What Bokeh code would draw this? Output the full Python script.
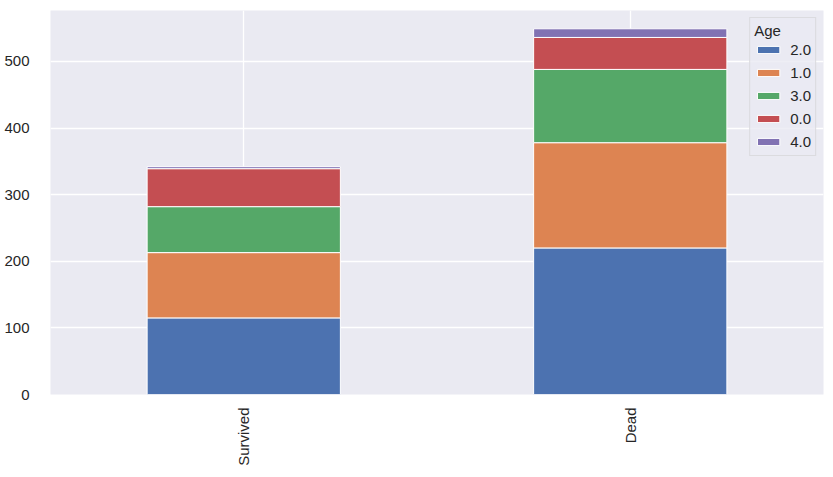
from bokeh.plotting import figure
from bokeh.models import ColumnDataSource, FactorRange, Range1d, SingleIntervalTicker
from bokeh.embed import file_html
from bokeh.resources import INLINE
from math import pi

categories = ["Survived", "Dead"]
age_groups = ["2.0", "1.0", "3.0", "0.0", "4.0"]
age_2 = [115, 220]
age_1 = [98, 158]
age_3 = [69, 110]
age_0 = [57, 48]
age_4 = [3, 13]
colors = ["#4C72B0", "#DD8452", "#55A868", "#C44E52", "#8172B3"]

keys = ["a2", "a1", "a3", "a0", "a4"]
source = ColumnDataSource(data=dict(cat=categories, a2=age_2, a1=age_1, a3=age_3, a0=age_0, a4=age_4))

totals = [sum(v) for v in zip(age_2, age_1, age_3, age_0, age_4)]
ymax = max(totals) * 1.05

p = figure(width=833, height=477, output_backend="svg", toolbar_location=None,
           x_range=FactorRange(factors=categories, range_padding=0),
           y_range=Range1d(0, ymax),
           min_border_left=50, min_border_right=10, min_border_top=10, min_border_bottom=83,
           background_fill_color="#EAEAF2", border_fill_color="white", outline_line_color=None)

p.vbar_stack(keys, x="cat", width=0.5, source=source, color=colors,
             line_color="white", line_width=1, legend_label=age_groups)

p.yaxis.ticker = SingleIntervalTicker(interval=100)
for ax in (p.xaxis, p.yaxis):
    ax.axis_line_color = None
    ax.major_tick_line_color = None
    ax.minor_tick_line_color = None
    ax.major_label_text_font = "Liberation Sans"
    ax.major_label_text_font_size = "15px"
    ax.major_label_text_color = "#262626"
p.yaxis.major_label_standoff = 15
p.xaxis.major_label_standoff = 7
p.xaxis.major_label_orientation = pi / 2

p.grid.grid_line_color = "white"
p.grid.grid_line_width = 1.3

lg = p.legend[0]
lg.location = "top_right"
lg.title = "Age"
lg.title_text_font = "Liberation Sans"
lg.title_text_font_size = "15px"
lg.title_text_font_style = "normal"
lg.title_text_color = "#262626"
lg.title_standoff = 1
lg.label_text_font = "Liberation Sans"
lg.label_text_font_size = "15px"
lg.label_text_color = "#262626"
lg.glyph_width = 28
lg.glyph_height = 9
lg.label_height = 19
lg.spacing = 4
lg.label_standoff = 8
lg.padding = 4
lg.margin = 7
lg.background_fill_color = "#EAEAF2"
lg.background_fill_alpha = 0.8
lg.border_line_color = "#cccccc"
lg.border_line_width = 1

open("out.html", "w").write(file_html(p, INLINE))
